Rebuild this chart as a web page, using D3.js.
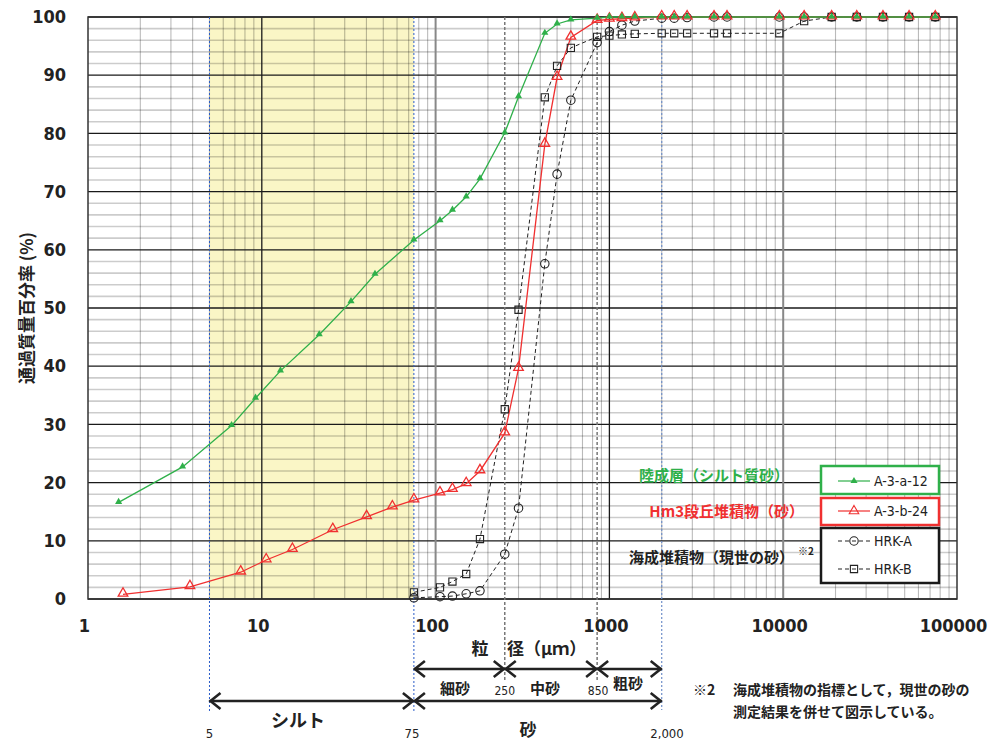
<!DOCTYPE html>
<html><head><meta charset="utf-8">
<script src="https://cdn.jsdelivr.net/npm/d3@7"></script>
<style>
body{margin:0;background:#fff;}
svg{display:block;}
.num{font-family:"Liberation Sans Narrow","DejaVu Sans Condensed","Arial Narrow",Arial,sans-serif;}
.jp{font-family:"Noto Sans CJK JP","Noto Sans",sans-serif;}
</style></head>
<body>
<svg id="chart" width="999" height="740"></svg>
<script>
// ---------- data ----------
const topSieves = [2000, 2360, 2800, 4000, 4750, 9500, 13200, 19000, 26500, 37500, 53000, 75000];

const greenSizes = [1.5, 3.5, 6.7, 9.2, 12.8, 21.4, 32.6, 44.8, 75, 106, 125, 150, 180, 250, 300, 425, 500, 600, 850, 1000, 1180, 1400].concat(topSieves);
const greenValues = [16.6, 22.7, 29.8, 34.5, 39.2, 45.4, 51.1, 55.8, 61.7, 65.0, 66.8, 69.1, 72.2, 80.1, 86.3, 97.2, 98.8, 99.5, 99.8, 100, 100, 100,
  100, 100, 100, 100, 100, 100, 100, 100, 100, 100, 100, 100];

const redSizes = [1.59, 3.86, 7.56, 10.6, 15.0, 25.6, 40.1, 56.4, 75, 106, 125, 150, 180, 250, 300, 425, 500, 600, 850, 1000, 1180, 1400].concat(topSieves);
const redValues = [0.8, 2.1, 4.6, 6.7, 8.5, 11.9, 14.1, 15.8, 17.0, 18.2, 18.8, 19.8, 22.0, 28.5, 39.6, 78.1, 89.6, 96.5, 99.4, 99.6, 99.7, 99.8,
  100, 100, 100, 100, 100, 100, 100, 100, 100, 100, 100, 100];

const hrkSizes = [75, 106, 125, 150, 180, 250, 300, 425, 500, 600, 850, 1000, 1180, 1400].concat(topSieves);
const hrkAValues = [0.2, 0.4, 0.5, 0.9, 1.4, 7.7, 15.6, 57.6, 73.0, 85.7, 95.6, 97.5, 98.6, 99.3,
  99.8, 99.8, 99.9, 100, 100, 100, 100, 100, 100, 100, 100, 100];
const hrkBValues = [1.15, 2.0, 3.0, 4.3, 10.3, 32.6, 49.7, 86.2, 91.6, 94.7, 96.6, 96.8, 97.0, 97.1,
  97.2, 97.2, 97.2, 97.2, 97.2, 97.2, 99.3, 100, 100, 100, 100, 100];

const xTickValues = [1, 10, 100, 1000, 10000, 100000];
const xTickLabels = ["1", "10", "100", "1000", "10000", "100000"];
const yTickValues = [0, 10, 20, 30, 40, 50, 60, 70, 80, 90, 100];

const seriesNames = ["A-3-a-12", "A-3-b-24", "HRK-A", "HRK-B"];
const groupLabels = ["陸成層（シルト質砂）", "Hm3段丘堆積物（砂）", "海成堆積物（現世の砂）"];
const siltRange = [5, 75];

// ---------- setup ----------
const svg = d3.select("#chart");
const L = 88, R = 957, T = 17, B = 599;
const x = d3.scaleLog().domain([1, 100000]).range([L, R]);
const y = d3.scaleLinear().domain([0, 100]).range([B, T]);

const GREEN = "#2fb04a", RED = "#f03030";

// silt band
svg.append("rect").attr("x", x(siltRange[0])).attr("y", T)
  .attr("width", x(siltRange[1]) - x(siltRange[0])).attr("height", B - T)
  .attr("fill", "#faf6c6");

const grid = svg.append("g");
for (let v = 2; v < 100; v += 2) {
  if (v % 10 === 0) continue;
  grid.append("line").attr("x1", L).attr("x2", R).attr("y1", y(v)).attr("y2", y(v))
    .attr("stroke", "#000").attr("stroke-opacity", 0.2).attr("stroke-width", 1.6);
}
for (let d = 1; d < 100000; d *= 10) {
  for (let m = 2; m <= 9; m++) {
    grid.append("line").attr("x1", x(d * m)).attr("x2", x(d * m)).attr("y1", T).attr("y2", B)
      .attr("stroke", "#000").attr("stroke-opacity", 0.27).attr("stroke-width", 1.1);
  }
}
yTickValues.forEach(v => {
  grid.append("line").attr("x1", L).attr("x2", R).attr("y1", y(v)).attr("y2", y(v))
    .attr("stroke", "#1a1a1a").attr("stroke-width", 1.3);
});
[10, 1000].forEach(v => grid.append("line").attr("x1", x(v)).attr("x2", x(v)).attr("y1", T).attr("y2", B)
  .attr("stroke", "#1a1a1a").attr("stroke-width", 1.3));
[100, 10000].forEach(v => grid.append("line").attr("x1", x(v)).attr("x2", x(v)).attr("y1", T).attr("y2", B)
  .attr("stroke", "#888").attr("stroke-width", 2));

svg.append("rect").attr("x", L).attr("y", T).attr("width", R - L).attr("height", B - T)
  .attr("fill", "none").attr("stroke", "#333").attr("stroke-width", 1.5);

// boundary dotted lines
const bnd = svg.append("g");
bnd.append("line").attr("x1", x(5)).attr("x2", x(5)).attr("y1", T).attr("y2", 712)
  .attr("stroke", "#2a5cc8").attr("stroke-width", 1).attr("stroke-dasharray", "2,2");
bnd.append("line").attr("x1", x(75)).attr("x2", x(75)).attr("y1", T).attr("y2", 712)
  .attr("stroke", "#2a5cc8").attr("stroke-width", 1).attr("stroke-dasharray", "2,2");
bnd.append("line").attr("x1", x(2000)).attr("x2", x(2000)).attr("y1", T).attr("y2", 710)
  .attr("stroke", "#6f8fc8").attr("stroke-width", 1.2).attr("stroke-dasharray", "2,2");
[250, 850].forEach(v => bnd.append("line").attr("x1", x(v)).attr("x2", x(v)).attr("y1", T).attr("y2", 682)
  .attr("stroke", "#777").attr("stroke-width", 1.5).attr("stroke-dasharray", "3,2"));

// axes labels
const yAxis = d3.axisLeft(y).tickValues(yTickValues).tickSize(0).tickPadding(0);
const gy = svg.append("g").attr("transform", `translate(${L - 22},0)`).call(yAxis);
gy.select(".domain").remove();
gy.selectAll("text").attr("class", "num").attr("font-size", 18).attr("font-weight", "bold").attr("fill", "#222");

const xAxis = d3.axisBottom(x).tickValues(xTickValues).tickFormat((d, i) => xTickLabels[i]).tickSize(0).tickPadding(0);
const gx = svg.append("g").attr("transform", `translate(-4,${B + 20})`).call(xAxis);
gx.select(".domain").remove();
gx.selectAll("text").attr("class", "num").attr("font-size", 18).attr("font-weight", "bold").attr("fill", "#222");

svg.append("text").attr("class", "jp").attr("transform", "translate(33,308) rotate(-90)")
  .attr("text-anchor", "middle").attr("font-size", 17).attr("font-weight", "bold").attr("fill", "#222")
  .text("通過質量百分率 (%)");

// ---------- series ----------
const line = d3.line().x(d => x(d[0])).y(d => y(d[1]));
function zip(a, b) { return a.map((v, i) => [v, b[i]]); }

const dataA = zip(hrkSizes, hrkAValues), dataB = zip(hrkSizes, hrkBValues);
const dataG = zip(greenSizes, greenValues), dataR = zip(redSizes, redValues);

svg.append("path").datum(dataB).attr("d", line).attr("fill", "none").attr("stroke", "#222")
  .attr("stroke-width", 1).attr("stroke-dasharray", "4,3");
svg.append("path").datum(dataA).attr("d", line).attr("fill", "none").attr("stroke", "#222")
  .attr("stroke-width", 1).attr("stroke-dasharray", "4,3");
svg.append("path").datum(dataR).attr("d", line).attr("fill", "none").attr("stroke", RED).attr("stroke-width", 1.3);
svg.append("path").datum(dataG).attr("d", line).attr("fill", "none").attr("stroke", GREEN).attr("stroke-width", 1.3);

const sq = d3.symbol().type(d3.symbolSquare).size(52);
const circ = d3.symbol().type(d3.symbolCircle).size(56);
const triBig = d3.symbol().type(d3.symbolTriangle).size(40);
const triSmall = d3.symbol().type(d3.symbolTriangle).size(22);

svg.append("g").selectAll("path").data(dataB).join("path")
  .attr("transform", d => `translate(${x(d[0])},${y(d[1])})`).attr("d", sq)
  .attr("fill", "none").attr("stroke", "#222").attr("stroke-width", 1.1);
svg.append("g").selectAll("path").data(dataA).join("path")
  .attr("transform", d => `translate(${x(d[0])},${y(d[1])})`).attr("d", circ)
  .attr("fill", "none").attr("stroke", "#222").attr("stroke-width", 1.1);
svg.append("g").selectAll("path").data(dataR).join("path")
  .attr("transform", d => `translate(${x(d[0])},${y(d[1]) - 1})`).attr("d", triBig)
  .attr("fill", "none").attr("stroke", RED).attr("stroke-width", 1.3);
svg.append("g").selectAll("path").data(dataG).join("path")
  .attr("transform", d => `translate(${x(d[0])},${y(d[1]) - 0.5})`).attr("d", triSmall)
  .attr("fill", GREEN).attr("stroke", "none");

// ---------- legend ----------
const lg = svg.append("g");
function box(y0, h, col, sw) {
  lg.append("rect").attr("x", 821).attr("y", y0).attr("width", 118).attr("height", h)
    .attr("fill", "#fff").attr("stroke", col).attr("stroke-width", sw);
}
box(466, 28, GREEN, 2.5);
box(498, 27, RED, 2.5);
box(528, 55, "#1a1a1a", 2.5);
function legRow(yy, col, dash, sym, fill, name) {
  lg.append("line").attr("x1", 838).attr("x2", 870).attr("y1", yy).attr("y2", yy)
    .attr("stroke", col).attr("stroke-width", 1.2).attr("stroke-dasharray", dash);
  lg.append("path").attr("transform", `translate(854,${yy})`).attr("d", sym)
    .attr("fill", fill).attr("stroke", fill === "none" ? col : "none").attr("stroke-width", 1.1);
  lg.append("text").attr("class", "num").attr("x", 874).attr("y", yy + 5).attr("font-size", 14)
    .attr("fill", "#222").text(name);
}
legRow(481, GREEN, null, triSmall, GREEN, seriesNames[0]);
legRow(511, RED, null, triBig, "none", seriesNames[1]);
legRow(541, "#222", "4,3", circ, "none", seriesNames[2]);
legRow(569, "#222", "4,3", sq, "none", seriesNames[3]);

svg.append("text").attr("class", "jp").attr("x", 789).attr("y", 481).attr("text-anchor", "end")
  .attr("font-size", 15).attr("font-weight", "bold").attr("fill", GREEN).text(groupLabels[0]);
svg.append("text").attr("class", "jp").attr("x", 804).attr("y", 517).attr("text-anchor", "end")
  .attr("font-size", 15).attr("font-weight", "bold").attr("fill", RED).text(groupLabels[1]);
svg.append("text").attr("class", "jp").attr("x", 794).attr("y", 563).attr("text-anchor", "end")
  .attr("font-size", 15).attr("font-weight", "bold").attr("fill", "#222").text(groupLabels[2]);
svg.append("text").attr("class", "jp").attr("x", 798).attr("y", 555)
  .attr("font-size", 10).attr("font-weight", "bold").attr("fill", "#222").text("※2");

// ---------- bottom annotations ----------
const ann = svg.append("g").attr("stroke", "#222").attr("stroke-width", 2.6).attr("fill", "none");
function dbl(x1, x2, yy) {
  ann.append("line").attr("x1", x1).attr("x2", x2).attr("y1", yy).attr("y2", yy);
  ann.append("path").attr("d", `M${x1 + 11},${yy - 8}L${x1 + 1},${yy}L${x1 + 11},${yy + 8}`);
  ann.append("path").attr("d", `M${x2 - 11},${yy - 8}L${x2 - 1},${yy}L${x2 - 11},${yy + 8}`);
}
dbl(x(75), x(250), 669);
dbl(x(250), x(850), 669);
dbl(x(850), x(2000), 669);
dbl(x(5), x(75), 701);
dbl(x(75), x(2000), 701);

function txt(t, xx, yy, size, opts = {}) {
  return svg.append("text").attr("class", opts.cls || "jp").attr("x", xx).attr("y", yy)
    .attr("text-anchor", opts.anchor || "middle").attr("font-size", size)
    .attr("font-weight", opts.weight || "bold").attr("fill", "#222").text(t);
}
txt("粒", 480, 655, 17);
txt("径（μｍ）", 507, 655, 17, { anchor: "start" });
txt("細砂", 455, 694, 15);
txt("中砂", 545, 694, 15);
txt("粗砂", 628, 689, 15);
txt("シルト", 298, 727, 18);
txt("砂", 528, 736, 17);
txt("250", x(250), 695, 12, { cls: "num", weight: "normal" });
txt("850", x(850) + 1, 695, 12, { cls: "num", weight: "normal" });
txt("5", x(5), 738, 13, { cls: "num", weight: "normal" });
txt("75", x(75) - 2, 738, 13, { cls: "num", weight: "normal" });
txt("2,000", 667, 738, 13, { cls: "num", weight: "normal" });
txt("※2", 693, 695, 14, { anchor: "start" });
txt("海成堆積物の指標として，現世の砂の", 733, 695, 14, { anchor: "start" });
txt("測定結果を併せて図示している。", 733, 717, 14, { anchor: "start" });
</script>
</body></html>
